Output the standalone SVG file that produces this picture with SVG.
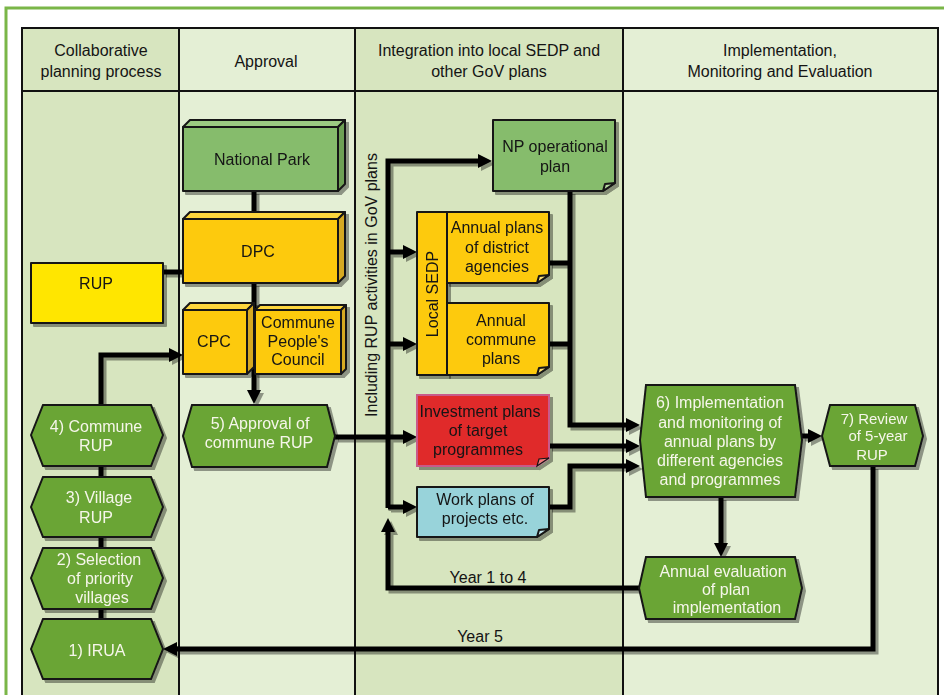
<svg xmlns="http://www.w3.org/2000/svg" width="944" height="695" viewBox="0 0 944 695">
<defs>
<style>
text{font-family:"Liberation Sans",Arial,sans-serif;font-size:16px;fill:#141414;text-anchor:middle}
.w{fill:#f6f6ea}
.s15{font-size:15px}
.hex{fill:#6aa536;stroke:#151515;stroke-width:2}
.conn{fill:none;stroke:#000;stroke-width:5}
.edge{stroke:#151515;stroke-width:2;stroke-linejoin:round}
.grid{fill:none;stroke:#111;stroke-width:2}
</style>
<filter id="sh" x="-10%" y="-10%" width="130%" height="130%">
<feDropShadow dx="3" dy="3" stdDeviation="0.7" flood-color="#000" flood-opacity="0.38"/>
</filter>
<marker id="ar" markerUnits="userSpaceOnUse" markerWidth="16" markerHeight="16" refX="4" refY="7" orient="auto">
<path d="M0,0 L14,7 L0,14 z" fill="#000"/>
</marker>
</defs>
<rect x="0" y="0" width="944" height="695" fill="#fff"/>
<rect x="6" y="8" width="960" height="720" fill="none" stroke="#7ab648" stroke-width="3"/>
<g id="table">
<rect x="22" y="28" width="157" height="680" fill="#d7e5bf"/>
<rect x="179" y="28" width="176" height="680" fill="#e4efd5"/>
<rect x="355" y="28" width="268" height="680" fill="#d7e5bf"/>
<rect x="623" y="28" width="315" height="680" fill="#e4efd5"/>
<rect x="22" y="28" width="916" height="680" class="grid"/>
<line x1="22" y1="91" x2="938" y2="91" class="grid"/>
<line x1="179" y1="28" x2="179" y2="708" class="grid" stroke-width="1.5"/>
<line x1="355" y1="28" x2="355" y2="708" class="grid" stroke-width="1.5"/>
<line x1="623" y1="28" x2="623" y2="708" class="grid" stroke-width="1.5"/>
<text x="101" y="56">Collaborative</text>
<text x="101" y="77">planning process</text>
<text x="266" y="67">Approval</text>
<text x="489" y="56">Integration into local SEDP and</text>
<text x="489" y="77">other GoV plans</text>
<text x="780" y="56">Implementation,</text>
<text x="780" y="77">Monitoring and Evaluation</text>
</g>
<g id="connectors" filter="url(#sh)">
<path class="conn" d="M254,191 V212"/>
<path class="conn" d="M254,283 V394" marker-end="url(#ar)"/>
<path class="conn" d="M163,272 H183"/>
<path class="conn" d="M101,619 V355 H173" marker-end="url(#ar)"/>
<path class="conn" d="M335,437 H407" marker-end="url(#ar)"/>
<path class="conn" d="M388,508 V161 H482" marker-end="url(#ar)"/>
<path class="conn" d="M388,507 H407" marker-end="url(#ar)"/>
<path class="conn" d="M388,252 H407" marker-end="url(#ar)"/>
<path class="conn" d="M388,344 H407" marker-end="url(#ar)"/>
<path class="conn" d="M639,588 H388 V528" marker-end="url(#ar)"/>
<path class="conn" d="M570,191 V425 H630" marker-end="url(#ar)"/>
<path class="conn" d="M549,263 H570 M549,344 H570"/>
<path class="conn" d="M549,446 H630" marker-end="url(#ar)"/>
<path class="conn" d="M549,507 H570 V466 H630" marker-end="url(#ar)"/>
<path class="conn" d="M802,436 H812" marker-end="url(#ar)"/>
<path class="conn" d="M721,497 V547" marker-end="url(#ar)"/>
<path class="conn" d="M873,466 V649 H173" marker-end="url(#ar)"/>
</g>
<g id="labels">
<text x="488" y="583">Year 1 to 4</text>
<text x="480" y="642">Year 5</text>
<text transform="translate(377,285) rotate(-90)">Including RUP activities in GoV plans</text>
</g>
<g id="national-park" filter="url(#sh)">
<polygon class="edge" points="183,127 190,120 345,120 338,127" fill="#9ccb82"/>
<polygon class="edge" points="338,127 345,120 345,184 338,191" fill="#6ea155"/>
<rect class="edge" x="183" y="127" width="155" height="64" fill="#86bc6c"/>
<text x="262" y="165">National Park</text>
</g>
<g id="dpc" filter="url(#sh)">
<polygon class="edge" points="183,219 190,212 345,212 338,219" fill="#fdd63d"/>
<polygon class="edge" points="338,219 345,212 345,276 338,283" fill="#d6a921"/>
<rect class="edge" x="183" y="219" width="155" height="64" fill="#fdca0d"/>
<text x="258" y="257">DPC</text>
</g>
<g id="rup" filter="url(#sh)">
<rect class="edge" x="31" y="263" width="132" height="60" fill="#ffe600"/>
<text x="96" y="289">RUP</text>
</g>
<g id="cpc" filter="url(#sh)">
<polygon class="edge" points="183,310 190,303 254,303 247,310" fill="#fdd63d"/>
<polygon class="edge" points="247,310 254,303 254,367 247,374" fill="#d6a921"/>
<rect class="edge" x="183" y="310" width="64" height="64" fill="#fdca0d"/>
<text x="214" y="347">CPC</text>
</g>
<g id="commune-council" filter="url(#sh)">
<polygon class="edge" points="255,310 260,305 346,305 341,310" fill="#fdd63d"/>
<polygon class="edge" points="341,310 346,305 346,369 341,374" fill="#d6a921"/>
<rect class="edge" x="255" y="310" width="86" height="64" fill="#fdca0d"/>
<text x="298" y="328">Commune</text>
<text x="298" y="347">People's</text>
<text x="298" y="365">Council</text>
</g>
<g id="np-operational" filter="url(#sh)">
<path class="edge" d="M493,120 H615 V183 L603,191 H493 Z" fill="#86bc6c"/>
<path class="edge" d="M603,191 L615,183 L605,184 Z" fill="#b5d9a0" stroke-width="1.2"/>
<text x="555" y="152">NP operational</text>
<text x="555" y="172">plan</text>
</g>
<g id="local-sedp" filter="url(#sh)">
<rect class="edge" x="417" y="212" width="30" height="163" fill="#fdca0d"/>
<text transform="translate(438,294) rotate(-90)">Local SEDP</text>
</g>
<g id="district-plans" filter="url(#sh)">
<path class="edge" d="M447,212 H549 V275 L537,283 H447 Z" fill="#fdca0d"/>
<path class="edge" d="M537,283 L549,275 L539,276 Z" fill="#fde07a" stroke-width="1.2"/>
<text x="497" y="233">Annual plans</text>
<text x="497" y="253">of district</text>
<text x="497" y="272">agencies</text>
</g>
<g id="commune-plans" filter="url(#sh)">
<path class="edge" d="M447,303 H549 V367 L537,375 H447 Z" fill="#fdca0d"/>
<path class="edge" d="M537,375 L549,367 L539,368 Z" fill="#fde07a" stroke-width="1.2"/>
<text x="501" y="326">Annual</text>
<text x="501" y="345">commune</text>
<text x="501" y="364">plans</text>
</g>
<g id="investment" filter="url(#sh)">
<path d="M417,395 H549 V458 L537,466 H417 Z" fill="#e0292b" stroke="#c85a8a" stroke-width="2"/>
<path d="M537,466 L549,458 L539,459 Z" fill="#f07a7c" stroke="#151515" stroke-width="1.2"/>
<text x="480" y="417">Investment plans</text>
<text x="478" y="436">of target</text>
<text x="478" y="455">programmes</text>
</g>
<g id="work-plans" filter="url(#sh)">
<path class="edge" d="M417,487 H549 V529 L537,537 H417 Z" fill="#98d3da"/>
<path class="edge" d="M537,537 L549,529 L539,530 Z" fill="#c6e9ee" stroke-width="1.2"/>
<text x="485" y="505">Work plans of</text>
<text x="485" y="524">projects etc.</text>
</g>
<g id="step4" filter="url(#sh)">
<polygon class="hex" points="31,435 43,405 151,405 163,435 151,466 43,466"/>
<text class="w" x="96" y="432">4) Commune</text>
<text class="w" x="96" y="451">RUP</text>
</g>
<g id="step3" filter="url(#sh)">
<polygon class="hex" points="31,507 43,477 151,477 163,507 151,537 43,537"/>
<text class="w" x="99" y="503">3) Village</text>
<text class="w" x="96" y="523">RUP</text>
</g>
<g id="step2" filter="url(#sh)">
<polygon class="hex" points="31,578 43,548 151,548 163,578 151,609 43,609"/>
<text class="w" x="99" y="565">2) Selection</text>
<text class="w" x="100" y="584">of priority</text>
<text class="w" x="102" y="603">villages</text>
</g>
<g id="step1" filter="url(#sh)">
<polygon class="hex" points="31,649 43,619 151,619 163,649 151,679 43,679"/>
<text class="w" x="97" y="656">1) IRUA</text>
</g>
<g id="step5" filter="url(#sh)">
<polygon class="hex" points="183,436 192,405 327,405 335,436 327,467 192,467"/>
<text class="w" x="260" y="429">5) Approval of</text>
<text class="w" x="259" y="448">commune RUP</text>
</g>
<g id="step6" filter="url(#sh)">
<polygon class="hex" points="646,385 640,440 646,497 795,497 802,440 795,385"/>
<text class="w" x="720" y="408">6) Implementation</text>
<text class="w" x="720" y="428">and monitoring of</text>
<text class="w" x="720" y="447">annual plans by</text>
<text class="w" x="720" y="466">different agencies</text>
<text class="w" x="720" y="485">and programmes</text>
</g>
<g id="step7" filter="url(#sh)">
<polygon class="hex" points="822,436 830,405 915,405 923,436 915,466 830,466"/>
<text class="w s15" x="874" y="424">7) Review</text>
<text class="w s15" x="878" y="441">of 5-year</text>
<text class="w s15" x="872" y="460">RUP</text>
</g>
<g id="annual-evaluation" filter="url(#sh)">
<polygon class="hex" points="639,588 646,557 795,557 802,588 795,619 646,619"/>
<text class="w" x="723" y="577">Annual evaluation</text>
<text class="w" x="726" y="595">of plan</text>
<text class="w" x="727" y="613">implementation</text>
</g>
</svg>
